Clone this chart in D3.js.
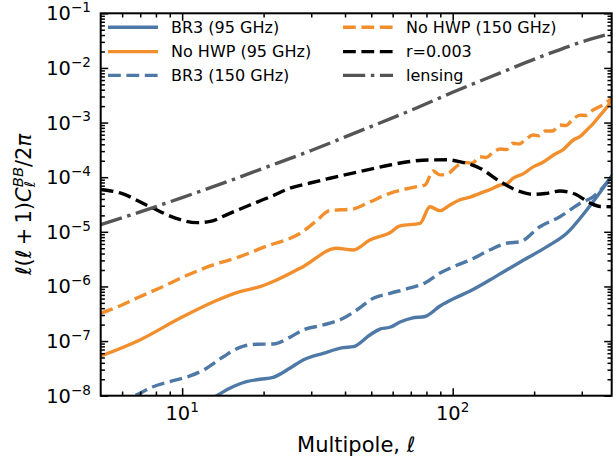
<!DOCTYPE html>
<html>
<head>
<meta charset="utf-8">
<script src="https://cdn.jsdelivr.net/npm/d3@7"></script>
<style>
  body { margin: 0; background: #fff; }
  svg { display: block; }
  text { font-family: "DejaVu Sans", sans-serif; fill: #000; }
</style>
</head>
<body>
<svg id="chart" width="616" height="463"></svg>
<script>
// BB power spectra, D_ell = ell(ell+1)C_ell/2pi
const br3_95_ell = [11.6, 13.2, 15.0, 17.3, 19.4, 21.7, 25.0, 28.0, 33.2, 39.4, 42.9, 49.4, 53.8, 58.6, 63.9, 70.7, 79.0, 89.8, 102, 116, 137, 156, 183, 223, 264, 313, 387];
const br3_95 = [7.05e-9, 9.59e-9, 1.37e-8, 1.81e-8, 2.00e-8, 2.17e-8, 3.18e-8, 4.51e-8, 5.97e-8, 7.57e-8, 7.89e-8, 1.29e-7, 1.66e-7, 1.79e-7, 2.23e-7, 2.64e-7, 2.82e-7, 4.39e-7, 6.15e-7, 8.26e-7, 1.31e-6, 1.92e-6, 3.05e-6, 5.35e-6, 9.40e-6, 2.51e-5, 1.05e-4];

const nohwp_95_ell = [5.0, 6.98, 9.80, 13.4, 16.35, 19.4, 22.35, 28.0, 37.2, 42.9, 49.4, 58.6, 63.9, 75.7, 82.4, 89.8, 97.7, 106, 116, 126, 137, 150, 158, 167, 182, 199, 215, 236, 256, 279, 295, 313, 330, 351, 368, 387];
const nohwp_95 = [5.33e-8, 1.05e-7, 2.61e-7, 5.53e-7, 8.02e-7, 9.89e-7, 1.31e-6, 2.30e-6, 4.99e-6, 4.65e-6, 7.08e-6, 9.64e-6, 1.28e-5, 1.43e-5, 2.88e-5, 2.44e-5, 3.10e-5, 3.82e-5, 4.30e-5, 5.07e-5, 5.90e-5, 7.19e-5, 7.45e-5, 9.55e-5, 1.15e-4, 1.56e-4, 1.85e-4, 2.55e-4, 3.20e-4, 4.80e-4, 5.50e-4, 7.31e-4, 9.50e-4, 1.37e-3, 1.80e-3, 2.58e-3];

const br3_150_ell = [5.0, 6.69, 7.81, 9.01, 10.7, 12.0, 14.2, 16.35, 18.8, 21.7, 25.0, 28.0, 33.2, 39.4, 44.2, 50.9, 58.6, 69.5, 79.0, 89.8, 102, 116, 137, 158, 178, 210, 249, 296, 331, 387];
const br3_150 = [6.30e-9, 1.0e-8, 1.46e-8, 1.81e-8, 2.30e-8, 2.96e-8, 5.18e-8, 7.69e-8, 8.73e-8, 8.85e-8, 1.17e-7, 1.60e-7, 1.97e-7, 2.61e-7, 3.71e-7, 6.07e-7, 7.48e-7, 9.38e-7, 1.16e-6, 1.76e-6, 2.37e-6, 3.05e-6, 4.65e-6, 6.17e-6, 6.59e-6, 1.24e-5, 1.89e-5, 3.33e-5, 4.40e-5, 1.02e-4];

const nohwp_150_ell = [5.0, 5.88, 6.98, 8.27, 10.7, 12.7, 16.35, 21.1, 25.0, 27.25, 31.0, 35.2, 42.8, 49.4, 58.6, 73.6, 79.0, 84.6, 89.8, 95.3, 105, 112, 118, 126, 133, 141, 150, 158, 167, 176, 187, 198, 208, 220, 234, 249, 262, 278, 296, 312, 330, 345, 362, 387];
const nohwp_150 = [3.23e-7, 4.39e-7, 6.49e-7, 9.38e-7, 1.69e-6, 2.37e-6, 3.51e-6, 5.74e-6, 7.55e-6, 9.31e-6, 1.51e-5, 2.45e-5, 2.62e-5, 3.52e-5, 5.07e-5, 6.70e-5, 7.19e-5, 1.30e-4, 1.10e-4, 1.14e-4, 1.67e-4, 1.85e-4, 1.80e-4, 2.37e-4, 2.30e-4, 2.85e-4, 3.28e-4, 3.20e-4, 4.17e-4, 4.05e-4, 5.00e-4, 5.92e-4, 5.75e-4, 7.02e-4, 7.00e-4, 9.02e-4, 8.80e-4, 1.15e-3, 1.37e-3, 1.35e-3, 1.70e-3, 1.90e-3, 2.15e-3, 2.82e-3];

const r003_ell = [5, 5.9, 7.6, 9.5, 11.3, 12.7, 15, 17.8, 21.1, 25, 29.7, 35.2, 45.4, 58.6, 69.5, 82.4, 95.3, 106, 126, 150, 178, 198, 220, 249, 283, 322, 351, 387];
const r003 = [5.96e-5, 5.14e-5, 2.88e-5, 1.77e-5, 1.47e-5, 1.55e-5, 2.18e-5, 3.10e-5, 4.34e-5, 6.27e-5, 7.83e-5, 9.55e-5, 1.27e-4, 1.67e-4, 1.94e-4, 2.07e-4, 2.08e-4, 1.92e-4, 1.46e-4, 8.26e-5, 5.42e-5, 4.86e-5, 5.02e-5, 5.58e-5, 4.92e-5, 3.37e-5, 2.90e-5, 2.88e-5];

const lensing_ell = [5, 7, 10, 14, 20, 30, 45, 70, 100, 150, 210, 300, 387];
const lensing = [1.36e-5, 2.32e-5, 4.23e-5, 7.60e-5, 1.46e-4, 3.08e-4, 6.89e-4, 1.67e-3, 3.58e-3, 8.11e-3, 1.58e-2, 2.99e-2, 4.31e-2];

const seriesNames = ["BR3 (95 GHz)", "No HWP (95 GHz)", "BR3 (150 GHz)", "No HWP (150 GHz)", "r=0.003", "lensing"];

const xMajorTicks = [10, 100];
const xTickExponents = ["1", "2"];
const yMajorTicks = [1e-8, 1e-7, 1e-6, 1e-5, 1e-4, 1e-3, 1e-2, 1e-1];
const yTickExponents = ["\u22128", "\u22127", "\u22126", "\u22125", "\u22124", "\u22123", "\u22122", "\u22121"];

// ---- styling ----
const BLUE = "#4e79a7", ORANGE = "#f28e2b", GRAY = "#555555";
const LW = 3.4;
const DASH = "12.8,5.6";
const DASHDOT = "22.2,5.6,3.5,5.6";

const styles = [
  { color: BLUE,   dash: null },
  { color: ORANGE, dash: null },
  { color: BLUE,   dash: DASH },
  { color: ORANGE, dash: DASH },
  { color: "#000", dash: DASH },
  { color: GRAY,   dash: DASHDOT }
];

const series = [
  [br3_95_ell, br3_95],
  [nohwp_95_ell, nohwp_95],
  [br3_150_ell, br3_150],
  [nohwp_150_ell, nohwp_150],
  [r003_ell, r003],
  [lensing_ell, lensing]
];

const box = { left: 100.7, right: 611.7, top: 13.3, bottom: 395.7 };

const x = d3.scaleLog().domain([5, 387]).range([box.left, box.right]);
const y = d3.scaleLog().domain([1e-8, 1e-1]).range([box.bottom, box.top]);

const svg = d3.select("#chart");

svg.append("defs").append("clipPath").attr("id", "plotclip")
  .append("rect")
  .attr("x", box.left).attr("y", box.top)
  .attr("width", box.right - box.left).attr("height", box.bottom - box.top);

// curves
const line = d3.line()
  .x(d => x(d[0]))
  .y(d => y(d[1]))
  .curve(d3.curveMonotoneX);

const curves = svg.append("g").attr("clip-path", "url(#plotclip)");
series.forEach(([ells, vals], i) => {
  const pts = ells.map((l, k) => [l, vals[k]]);
  curves.append("path")
    .attr("d", line(pts))
    .attr("fill", "none")
    .attr("stroke", styles[i].color)
    .attr("stroke-width", LW)
    .attr("stroke-linejoin", "round")
    .attr("stroke-linecap", styles[i].dash ? "butt" : "square")
    .attr("stroke-dasharray", styles[i].dash);
});

// minor tick positions for log axes
function minorTicks(lo, hi) {
  const out = [];
  for (let e = Math.floor(Math.log10(lo)); e <= Math.ceil(Math.log10(hi)); e++) {
    for (let m = 2; m <= 9; m++) {
      const v = m * Math.pow(10, e);
      if (v > lo && v < hi) out.push(v);
    }
  }
  return out;
}
const xMinor = minorTicks(5, 387);
const yMinor = minorTicks(1e-8, 1e-1);

const MAJ = 7.5, MIN = 4.2;
const axes = svg.append("g");
function drawAxis(gen, scale, vals, size, transform) {
  const g = axes.append("g").attr("transform", transform)
    .call(gen(scale).tickValues(vals).tickSize(-size).tickSizeOuter(0).tickFormat(""));
  g.select(".domain").remove();
  g.selectAll(".tick line").attr("stroke", "#000").attr("stroke-width", 1.5);
}
drawAxis(d3.axisBottom, x, xMajorTicks, MAJ, `translate(0,${box.bottom})`);
drawAxis(d3.axisBottom, x, xMinor, MIN, `translate(0,${box.bottom})`);
drawAxis(d3.axisTop, x, xMajorTicks, MAJ, `translate(0,${box.top})`);
drawAxis(d3.axisTop, x, xMinor, MIN, `translate(0,${box.top})`);
drawAxis(d3.axisLeft, y, yMajorTicks, MAJ, `translate(${box.left},0)`);
drawAxis(d3.axisLeft, y, yMinor, MIN, `translate(${box.left},0)`);
drawAxis(d3.axisRight, y, yMajorTicks, MAJ, `translate(${box.right},0)`);
drawAxis(d3.axisRight, y, yMinor, MIN, `translate(${box.right},0)`);

axes.append("rect")
  .attr("x", box.left).attr("y", box.top)
  .attr("width", box.right - box.left).attr("height", box.bottom - box.top)
  .attr("fill", "none").attr("stroke", "#000").attr("stroke-width", 2);

// tick labels: 10 with a superscript exponent
const TICK_FS = 19.4;
function powerLabel(g, exp) {
  g.append("tspan").text("10");
  g.append("tspan").attr("font-size", TICK_FS * 0.7).attr("dy", -TICK_FS * 0.42).text(exp);
}
xMajorTicks.forEach((v, i) => {
  const t = svg.append("text")
    .attr("x", x(v)).attr("y", 420)
    .attr("text-anchor", "middle")
    .attr("font-size", TICK_FS);
  powerLabel(t, xTickExponents[i]);
});
yMajorTicks.forEach((v, i) => {
  const t = svg.append("text")
    .attr("x", 91).attr("y", y(v) + 7)
    .attr("text-anchor", "end")
    .attr("font-size", TICK_FS);
  powerLabel(t, yTickExponents[i]);
});

// axis titles
const LAB_FS = 21;
const xl = svg.append("text")
  .attr("x", (box.left + box.right) / 2).attr("y", 452)
  .attr("text-anchor", "middle").attr("font-size", LAB_FS);
xl.append("tspan").text("Multipole, ");
xl.append("tspan").attr("font-style", "italic").text("\u2113");

const yl = svg.append("text")
  .attr("transform", `translate(31,${(box.top + box.bottom) / 2}) rotate(-90)`)
  .attr("text-anchor", "middle").attr("font-size", LAB_FS);
yl.append("tspan").attr("font-style", "italic").text("\u2113");
yl.append("tspan").text("(");
yl.append("tspan").attr("font-style", "italic").text("\u2113");
yl.append("tspan").text("\u2009+\u20091)");
yl.append("tspan").attr("font-style", "italic").text("C");
yl.append("tspan").attr("font-style", "italic").attr("font-size", LAB_FS * 0.7).attr("dy", 4).text("\u2113");
yl.append("tspan").attr("font-style", "italic").attr("font-size", LAB_FS * 0.7).attr("dx", -6).attr("dy", -12).text("BB");
yl.append("tspan").attr("dy", 8).text("/2");
yl.append("tspan").attr("font-style", "italic").text("\u03c0");

// legend, two columns of three entries
const LEG_FS = 16;
const legendCols = [108, 343];
const legendRows = [27.3, 51.6, 75.4];
const legend = svg.append("g");
seriesNames.forEach((name, i) => {
  const col = Math.floor(i / 3), row = i % 3;
  const lx = legendCols[col], ly = legendRows[row];
  legend.append("line")
    .attr("x1", lx).attr("x2", lx + 50)
    .attr("y1", ly).attr("y2", ly)
    .attr("stroke", styles[i].color)
    .attr("stroke-width", LW)
    .attr("stroke-linecap", "butt")
    .attr("stroke-dasharray", styles[i].dash);
  legend.append("text")
    .attr("x", lx + 63).attr("y", ly + 5.8)
    .attr("font-size", LEG_FS)
    .text(name);
});
</script>
</body>
</html>
